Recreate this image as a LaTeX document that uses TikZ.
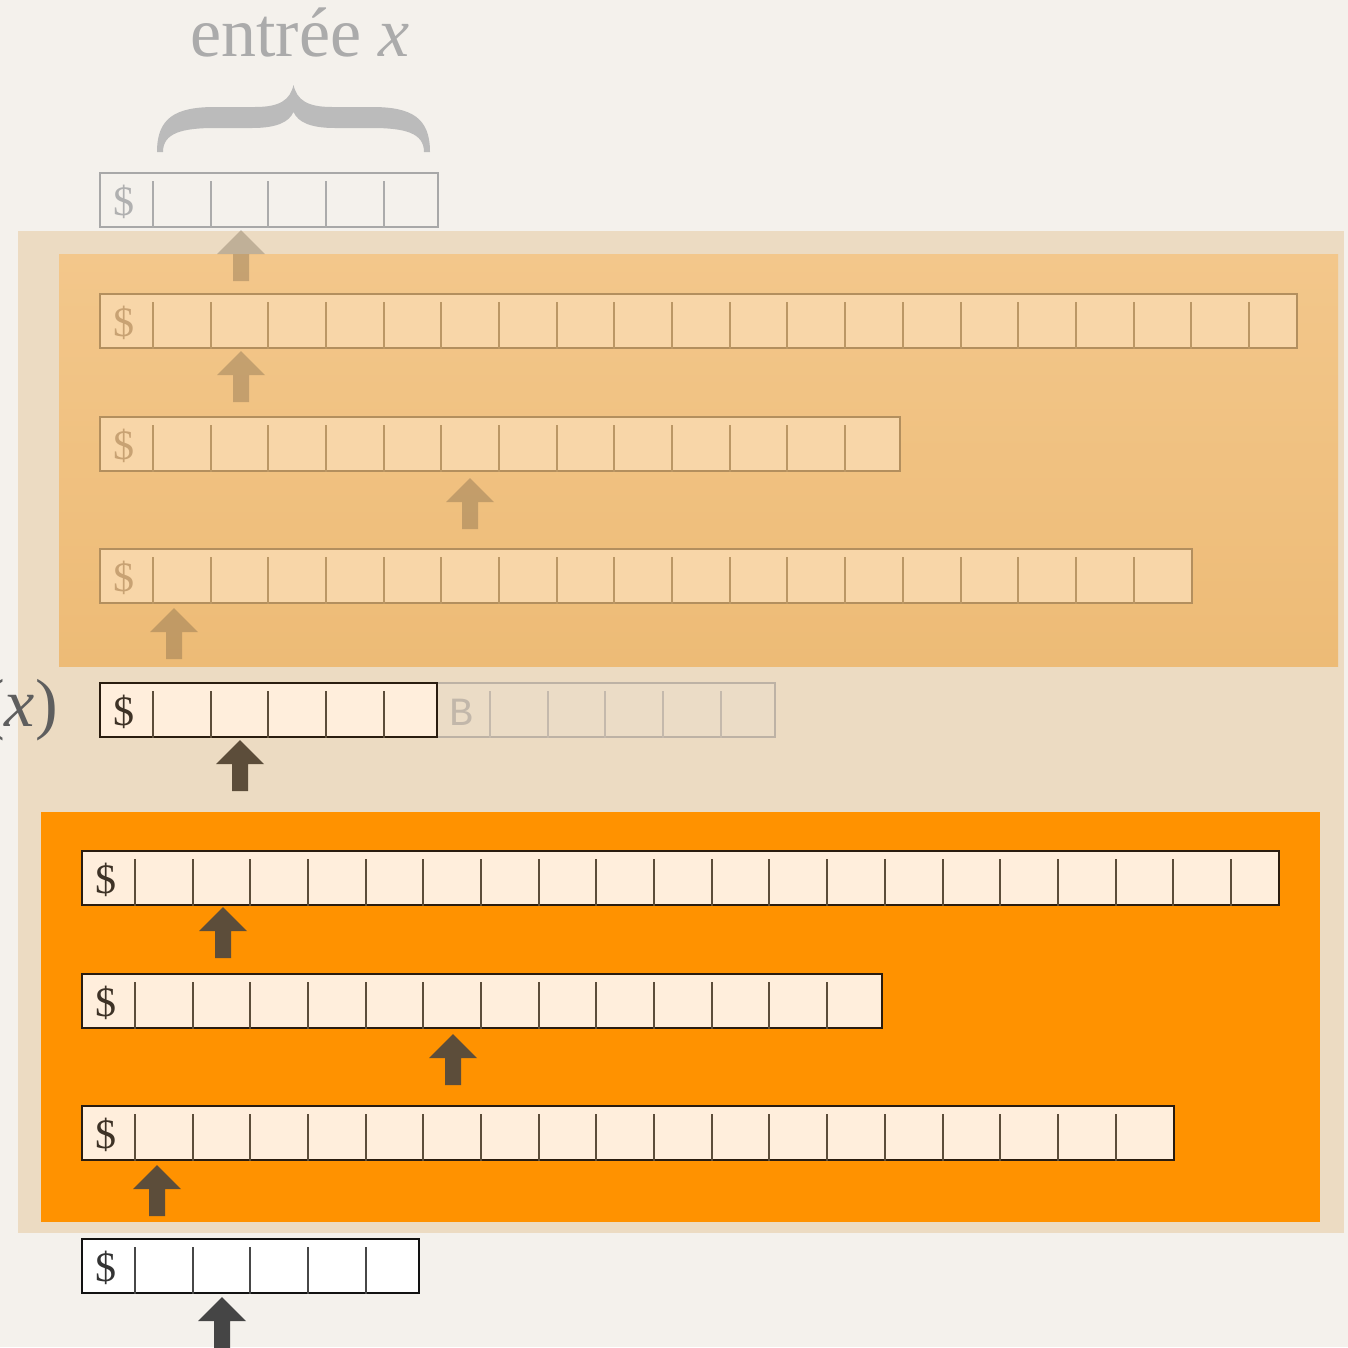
\documentclass[tikz,border=0pt]{standalone}
\usepackage{fontspec}
\setmainfont{Liberation Serif}
\newfontfamily\tapemono{Liberation Mono}
\definecolor{paper}{HTML}{F4F1EC}
\definecolor{regionc}{HTML}{ECDBC2}
\definecolor{uptop}{HTML}{F3C78B}
\definecolor{upbot}{HTML}{EDBB76}
\definecolor{orangebox}{HTML}{FF9200}
\definecolor{darkarr}{HTML}{5C4D3A}
\definecolor{grayarr}{HTML}{454545}
\definecolor{bracec}{HTML}{BBBBBB}
\definecolor{titlec}{HTML}{ABABAB}
\definecolor{fxc}{HTML}{5E5E5E}
\begin{document}
\begin{tikzpicture}[x=1pt,y=-1pt,
  tapebase/.style={inner sep=0pt,outer sep=0pt,minimum height=54pt,anchor=north west},
  tapeA/.style={tapebase,draw=black!34,line width=2pt},
  divA/.style={draw=black!33,line width=2pt},
  dolA/.style={text=black!31},
  tapeU/.style={tapebase,fill={rgb,255:red,248;green,214;blue,168},draw={rgb,255:red,179;green,143;blue,94},line width=2.2pt},
  divU/.style={draw={rgb,255:red,187;green,151;blue,101},line width=2pt},
  dolU/.style={text={rgb,255:red,200;green,162;blue,115}},
  tapeL/.style={tapebase,fill={rgb,255:red,255;green,238;blue,220},draw={rgb,255:red,42;green,28;blue,15},line width=2.6pt},
  divL/.style={draw=darkarr,line width=2pt},
  dolL/.style={text={rgb,255:red,62;green,50;blue,38}},
  tapeG/.style={tapebase,fill={rgb,255:red,235;green,220;blue,198},draw={rgb,255:red,189;green,178;blue,165},line width=2pt},
  divG/.style={draw={rgb,255:red,196;green,185;blue,172},line width=2pt},
  dolG/.style={text={rgb,255:red,194;green,183;blue,170},font=\tapemono\fontsize{40}{44}\selectfont},
  tapeW/.style={tapebase,fill=white,draw=black!93,line width=2.6pt},
  divW/.style={draw=black!72,line width=2pt},
  dolW/.style={text=black!80},
  dolbase/.style={inner sep=0pt,anchor=base,font=\fontsize{42}{46}\selectfont},
  arrU/.style={fill=darkarr,fill opacity=0.3},
  arrL/.style={fill=darkarr},
  arrW/.style={fill=grayarr}]
\newcommand\mytape[7]{%
  \node[tape#6,minimum width={(#4-#2)*1pt}] (#1) at (#2,#3) {};
  \foreach \i in {0,...,#5} \draw[div#6] ({#2+53+57.68*\i},{#3+8}) -- ++(0,47);
  \node[dolbase,dol#6] (#1-s) at ({#2+24},{#3+42}) {#7};
}
\newcommand\uparr[3]{%
  \fill[#3] (#1,#2) -- ++(24,24) -- ++(-16,0) -- ++(0,27) -- ++(-16,0) -- ++(0,-27) -- ++(-16,0) -- cycle;
}
\useasboundingbox (0,0) rectangle (1348,1347);
\fill[paper] (0,0) rectangle (1348,1347);
\fill[regionc] (18,231) rectangle (1344,1233);
\shade[top color=uptop,bottom color=upbot] (59,254) rectangle (1338,666);
\fill[orangebox] (41,812) rectangle (1320,1222);
% title and brace
\node[inner sep=0pt,anchor=base west,text=titlec,font=\fontsize{70}{80}\selectfont] (title) at (190,56) {entrée \textit{x}};
\fill[bracec] (157,152) .. controls (157,118) and (175,107) .. (215,107) -- (255,107)
  .. controls (280,107) and (290,100) .. (293.5,85)
  .. controls (297,100) and (307,107) .. (332,107) -- (372,107)
  .. controls (412,107) and (430,118) .. (430,152) -- (424,152)
  .. controls (424,133) and (405,128) .. (372,128) -- (335,128)
  .. controls (310,128) and (298,122) .. (293.5,112)
  .. controls (289,122) and (277,128) .. (252,128) -- (215,128)
  .. controls (182,128) and (163,133) .. (163,152) -- cycle;
\node[inner sep=0pt,anchor=base east,text=fxc,font=\fontsize{68}{76}\selectfont] (fx) at (58,726) {(\textit{x})};
% tapes
\mytape{t1}{100}{173}{438}{4}{A}{\$}
\mytape{t2}{100}{294}{1297}{19}{U}{\$}
\mytape{t3}{100}{417}{900}{12}{U}{\$}
\mytape{t4}{100}{549}{1192}{17}{U}{\$}
\mytape{tb}{437}{683}{775}{4}{G}{B}
\mytape{t5}{100}{683}{437}{4}{L}{\$}
\mytape{t6}{82}{851}{1279}{19}{L}{\$}
\mytape{t7}{82}{974}{882}{12}{L}{\$}
\mytape{t8}{82}{1106}{1174}{17}{L}{\$}
\mytape{t9}{82}{1239}{419}{4}{W}{\$}
% heads
\uparr{241}{230}{arrU}
\uparr{241}{351}{arrU}
\uparr{470}{478}{arrU}
\uparr{174}{608}{arrU}
\uparr{240}{740}{arrL}
\uparr{223}{907}{arrL}
\uparr{453}{1034}{arrL}
\uparr{157}{1165}{arrL}
\uparr{222}{1297}{arrW}
\end{tikzpicture}
\end{document}
